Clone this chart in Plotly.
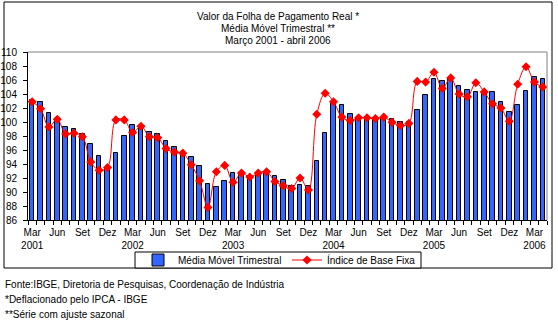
import plotly.graph_objects as go

# Períodos mensais: março/2001 a abril/2006
periodo = [
    "Mar/01", "Abr/01", "Mai/01", "Jun/01", "Jul/01", "Ago/01", "Set/01", "Out/01", "Nov/01", "Dez/01",
    "Jan/02", "Fev/02", "Mar/02", "Abr/02", "Mai/02", "Jun/02", "Jul/02", "Ago/02", "Set/02", "Out/02", "Nov/02", "Dez/02",
    "Jan/03", "Fev/03", "Mar/03", "Abr/03", "Mai/03", "Jun/03", "Jul/03", "Ago/03", "Set/03", "Out/03", "Nov/03", "Dez/03",
    "Jan/04", "Fev/04", "Mar/04", "Abr/04", "Mai/04", "Jun/04", "Jul/04", "Ago/04", "Set/04", "Out/04", "Nov/04", "Dez/04",
    "Jan/05", "Fev/05", "Mar/05", "Abr/05", "Mai/05", "Jun/05", "Jul/05", "Ago/05", "Set/05", "Out/05", "Nov/05", "Dez/05",
    "Jan/06", "Fev/06", "Mar/06", "Abr/06",
]

# Média móvel trimestral (barras)
media_movel = [
    103.2, 102.8, 101.3, 100.5, 99.3, 99.0, 98.3, 96.9, 95.2, 93.5,
    95.6, 98.0, 99.6, 99.2, 98.6, 98.3, 97.3, 96.5, 95.7, 95.0, 93.7, 91.1,
    90.7, 91.6, 92.7, 92.4, 92.2, 92.6, 92.9, 92.3, 91.7, 90.9, 91.05, 90.9,
    94.45, 98.5, 102.7, 102.5, 101.2, 100.5, 100.5, 100.6, 100.5, 100.4, 100.05, 99.95,
    101.7, 103.8, 106.2, 105.8, 106.2, 105.1, 104.6, 104.35, 104.35, 104.25, 102.9, 101.5,
    102.5, 104.5, 106.4, 106.2,
]

# Índice de base fixa (linha)
indice_base_fixa = [
    102.9, 101.9, 99.3, 100.4, 98.3, 98.4, 97.9, 94.3, 93.1, 93.5,
    100.3, 100.3, 98.5, 99.4, 97.9, 97.75, 96.2, 95.7, 95.55, 93.9, 91.6, 87.8,
    92.9, 93.8, 91.4, 92.7, 92.15, 92.7, 92.9, 91.5, 90.9, 90.5, 92.0, 90.3,
    101.1, 104.1, 102.9, 100.7, 100.2, 100.6, 100.6, 100.5, 100.7, 99.95, 99.5, 99.8,
    105.8, 105.7, 107.1, 104.8, 106.3, 104.0, 103.6, 105.6, 104.3, 102.6, 102.0, 100.1,
    105.4, 107.9, 105.7, 105.0,
]

# Rótulos do eixo X (a cada trimestre)
rotulos_x = [
    "Mar<br>2001", "Jun", "Set", "Dez",
    "Mar<br>2002", "Jun", "Set", "Dez",
    "Mar<br>2003", "Jun", "Set", "Dez",
    "Mar<br>2004", "Jun", "Set", "Dez",
    "Mar<br>2005", "Jun", "Set", "Dez",
    "Mar<br>2006",
]
posicoes_rotulos = [periodo.index(p) for p in periodo if p.startswith(("Mar", "Jun", "Set", "Dez"))]

ticks_y = [86, 88, 90, 92, 94, 96, 98, 100, 102, 104, 106, 108, 110]

titulo = ["Valor da Folha de Pagamento Real *", "Média Móvel Trimestral **", "Março 2001 - abril 2006"]
notas = [
    "Fonte:IBGE, Diretoria de Pesquisas, Coordenação de Indústria",
    "*Deflacionado pelo IPCA - IBGE",
    "**Série com ajuste sazonal",
]

W, H = 558, 321
L, R, T, B = 28, 11, 52, 101
plot_w = W - L - R
plot_h = H - T - B


def px_x(px):
    return (px - L) / plot_w


def px_y(py):
    return (H - B - py) / plot_h


FONTE_GRAF = "Liberation Sans Narrow, Arial Narrow, Liberation Sans, Arial, sans-serif"
FONTE_TXT = "Liberation Sans, Arial, sans-serif"

x = list(range(len(periodo)))

fig = go.Figure()
fig.add_bar(
    x=x, y=media_movel, name="Média Móvel Trimestral",
    width=0.55,
    marker=dict(color="#3366FF", line=dict(color="black", width=1)),
)
fig.add_scatter(
    x=x, y=indice_base_fixa, name="Índice de Base Fixa",
    mode="lines+markers",
    line=dict(color="#FF0000", width=1, shape="spline"),
    marker=dict(symbol="diamond", size=7, color="#FF0000"),
)

shapes = [
    # moldura externa do gráfico
    dict(type="rect", xref="paper", yref="paper",
         x0=px_x(4), x1=px_x(552), y0=px_y(268), y1=px_y(2),
         line=dict(color="black", width=1), fillcolor="rgba(0,0,0,0)", layer="below"),
    # bordas cinza da área de plotagem
    dict(type="line", xref="paper", yref="paper", x0=0, x1=1, y0=1, y1=1,
         line=dict(color="#808080", width=1)),
    dict(type="line", xref="paper", yref="paper", x0=1, x1=1, y0=0, y1=1,
         line=dict(color="#808080", width=1)),
    # caixa da legenda
    dict(type="rect", xref="paper", yref="paper",
         x0=px_x(135), x1=px_x(421), y0=px_y(268), y1=px_y(252),
         line=dict(color="black", width=1), fillcolor="white", layer="below"),
]

annotations = []
for i, linha in enumerate(titulo):
    annotations.append(dict(
        text=linha, xref="paper", yref="paper", x=px_x(278), y=px_y(16 + i * 12),
        xanchor="center", yanchor="middle", showarrow=False,
        font=dict(family=FONTE_TXT, size=10, color="black"),
    ))
for i, linha in enumerate(notas):
    annotations.append(dict(
        text=linha, xref="paper", yref="paper", x=px_x(3), y=px_y(284 + i * 15),
        xanchor="left", yanchor="middle", showarrow=False,
        font=dict(family=FONTE_TXT, size=10, color="black"),
    ))

fig.update_layout(
    width=W, height=H,
    margin=dict(l=L, r=R, t=T, b=B, pad=0),
    paper_bgcolor="white", plot_bgcolor="white",
    bargap=0,
    showlegend=True,
    legend=dict(
        orientation="h", x=px_x(138), y=px_y(260), xanchor="left", yanchor="middle",
        bgcolor="rgba(0,0,0,0)", borderwidth=0,
        font=dict(family=FONTE_GRAF, size=10, color="black"),
        itemwidth=30, entrywidth=104,
    ),
    xaxis=dict(
        range=[-0.5, len(periodo) - 0.5],
        tickmode="array", tickvals=posicoes_rotulos, ticktext=rotulos_x,
        ticks="", showgrid=False, zeroline=False, automargin=False,
        showline=True, linecolor="black", linewidth=1,
        minor=dict(tick0=-0.5, dtick=1, ticks="outside", ticklen=4,
                   tickcolor="black", tickwidth=1, showgrid=False),
        tickfont=dict(family=FONTE_GRAF, size=10, color="black"),
        ticklabelstandoff=3,
    ),
    yaxis=dict(
        range=[86, 110],
        tickmode="array", tickvals=ticks_y,
        ticks="outside", ticklen=4, tickcolor="black",
        showgrid=False, zeroline=False, automargin=False,
        showline=True, linecolor="black", linewidth=1,
        tickfont=dict(family=FONTE_GRAF, size=10, color="black"),
        ticklabelstandoff=4,
    ),
    shapes=shapes,
    annotations=annotations,
)

fig.write_html("out.html")
